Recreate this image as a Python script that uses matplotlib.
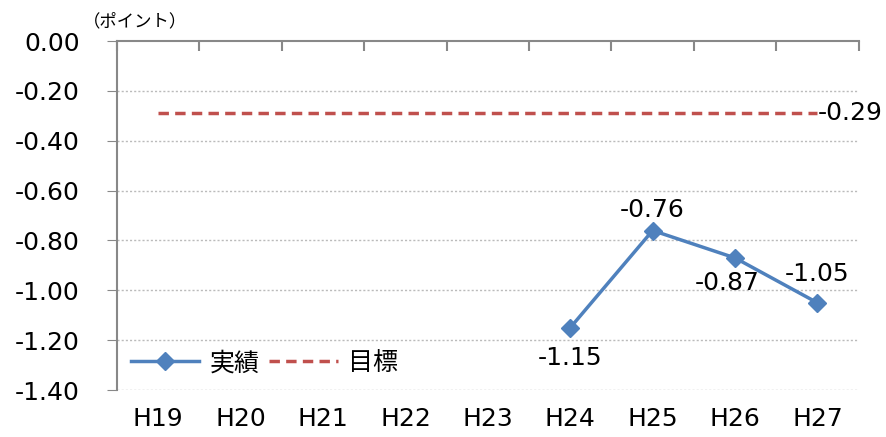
import matplotlib.pyplot as plt
import numpy as np

plt.rcParams['font.family'] = ['DejaVu Sans', 'Noto Sans CJK JP']

# data
years = ['H19', 'H20', 'H21', 'H22', 'H23', 'H24', 'H25', 'H26', 'H27']
actual_years = ['H24', 'H25', 'H26', 'H27']
actual = [-1.15, -0.76, -0.87, -1.05]
target = -0.29
y_ticks = [0.0, -0.2, -0.4, -0.6, -0.8, -1.0, -1.2, -1.4]

blue = '#4F81BD'
red = '#C0504D'
fs = 18

fig = plt.figure(figsize=(8.87, 4.37), dpi=100)
ax = fig.add_axes([0.132, 0.1075, 0.836, 0.7985])

x = np.arange(len(years))
xa = [years.index(y) for y in actual_years]

ax.plot(x, [target] * len(years), color=red, lw=2.5, ls=(0, (3, 1.8)), label='目標', zorder=3)
ax.plot(xa, actual, color=blue, lw=2.5, marker='D', markersize=9, label='実績', zorder=4)

# data labels
ax.text(x[-1] + 0.01, target, '%.2f' % target, fontsize=fs, va='center', ha='left')
offsets = [(0, -22), (0, 15), (-6, -18), (0, 21)]
for xi, v, (dx, dy) in zip(xa, actual, offsets):
    ax.annotate('%.2f' % v, (xi, v), xytext=(dx, dy), textcoords='offset points',
                fontsize=fs, ha='center', va='center')

ax.set_xlim(-0.5, len(years) - 0.5)
ax.set_ylim(-1.4, 0.0)
ax.set_yticks(y_ticks)
ax.set_yticklabels(['%.2f' % t for t in y_ticks], fontsize=fs)
ax.tick_params(axis='y', direction='out', length=7, color='#888888', pad=20)

ax.set_xticks(x)
ax.set_xticklabels(years, fontsize=fs)
ax.tick_params(axis='x', which='major', length=0, pad=12)
ax.set_xticks(np.arange(len(years) + 1) - 0.5, minor=True)
ax.tick_params(axis='x', which='minor', top=True, bottom=False, direction='in',
               length=7, color='#888888', width=1.5)

for yv in y_ticks[1:]:
    ax.axhline(yv, color='#BBBBBB', lw=1, ls=(0, (1.5, 1.5)), zorder=1)

for s in ['right', 'bottom']:
    ax.spines[s].set_visible(False)
for s in ['top', 'left']:
    ax.spines[s].set_color('#888888')
    ax.spines[s].set_linewidth(1.5)

handles, labels = ax.get_legend_handles_labels()
leg = ax.legend(handles[::-1], labels[::-1], loc='lower left', ncol=2, frameon=False,
                bbox_to_anchor=(-0.012, -0.025), handlelength=2.75,
                columnspacing=0.4, handletextpad=0.4,
                prop={'family': ['Noto Sans CJK JP'], 'size': fs})

fig.text(0.094, 0.952, '（ポイント）', fontsize=12.5, family=['Noto Sans CJK JP'], va='center')

fig.savefig('out.png', dpi=100)
